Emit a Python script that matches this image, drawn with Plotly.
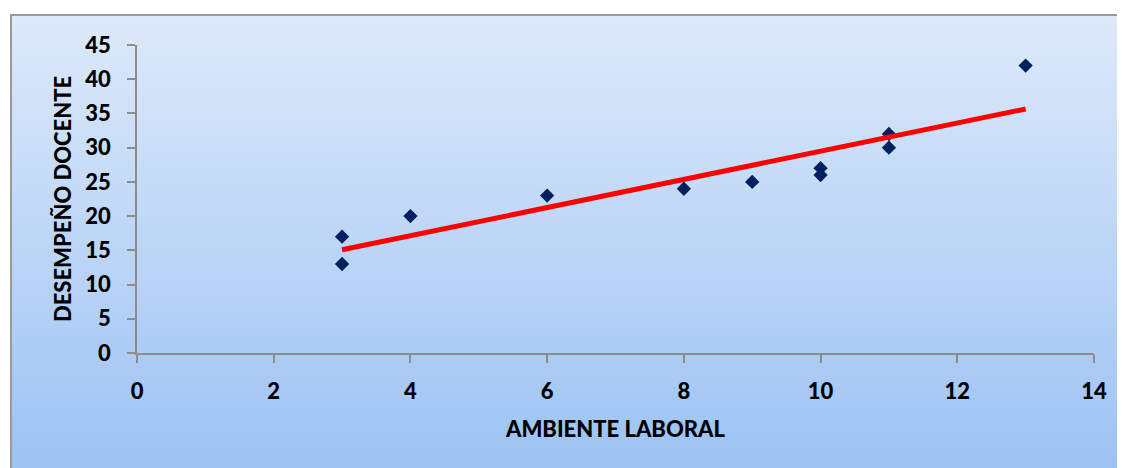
import numpy as np
import plotly.graph_objects as go

# Data
ambiente_laboral = [3, 3, 4, 6, 8, 9, 10, 10, 11, 11, 13]
desempeno_docente = [17, 13, 20, 23, 24, 25, 27, 26, 32, 30, 42]
x_ticks = [0, 2, 4, 6, 8, 10, 12, 14]
y_ticks = [0, 5, 10, 15, 20, 25, 30, 35, 40, 45]

OFF = 8  # page body margin
W, H = 1125, 468
# target plot box in page pixels: left 137, right 1094, top 45, bottom 353
L = 137 - OFF
T = 45 - OFF
R = W - (1094 - OFF)
B = H - (353 - OFF)
pw, ph = W - L - R, H - T - B

def px_to_paper_x(p):
    return (p - OFF - L) / pw

def px_to_paper_y(p):
    return (H - B - (p - OFF)) / ph

# Linear trend line fitted from data
slope, intercept = np.polyfit(ambiente_laboral, desempeno_docente, 1)
tx = [min(ambiente_laboral), max(ambiente_laboral)]
ty = [slope * v + intercept for v in tx]

fig = go.Figure()
fig.add_trace(go.Scatter(
    x=ambiente_laboral, y=desempeno_docente, mode="markers",
    marker=dict(symbol="diamond", size=11, color="#002060"),
    showlegend=False, hoverinfo="x+y"))
fig.add_trace(go.Scatter(
    x=tx, y=ty, mode="lines",
    line=dict(color="#ff0000", width=5),
    showlegend=False, hoverinfo="skip"))

# Gradient background (chart area frame)
shapes = []
top_px, bot_px = 15, 480
left_px, right_px = 11, 1140
c_top = np.array([222, 234, 250])
c_bot = np.array([155, 194, 243])
n = 80
for i in range(n):
    y0p = top_px + (bot_px - top_px) * i / n
    y1p = top_px + (bot_px - top_px) * (i + 1) / n + 0.8
    t = (i + 0.5) / n
    c = (c_top * (1 - t) + c_bot * t).astype(int)
    shapes.append(dict(type="rect", xref="paper", yref="paper",
                       x0=px_to_paper_x(left_px), x1=px_to_paper_x(right_px),
                       y0=px_to_paper_y(y1p), y1=px_to_paper_y(y0p),
                       fillcolor=f"rgb({c[0]},{c[1]},{c[2]})",
                       line=dict(width=0), layer="below"))
shapes.append(dict(type="rect", xref="paper", yref="paper",
                   x0=px_to_paper_x(left_px), x1=px_to_paper_x(right_px + 20),
                   y0=px_to_paper_y(bot_px + 20), y1=px_to_paper_y(top_px),
                   fillcolor="rgba(0,0,0,0)",
                   line=dict(width=2, color="#9a9a9a"), layer="below"))

font_family = "Lato, 'Open Sans', Arial, sans-serif"

fig.update_layout(
    width=W, height=H,
    margin=dict(l=L, r=R, t=T, b=B),
    paper_bgcolor="white",
    plot_bgcolor="rgba(0,0,0,0)",
    shapes=shapes,
    font=dict(family=font_family, color="black"),
    xaxis=dict(
        range=[0, 14], tickvals=x_ticks, ticktext=[str(v) for v in x_ticks],
        showgrid=False, zeroline=False, showline=True, linecolor="#8c8c8c", linewidth=1.5,
        ticks="outside", ticklen=8, tickcolor="#8c8c8c", tickwidth=1.5,
        tickfont=dict(size=22, family=font_family, weight=900),
        ticklabelstandoff=10,
        title=dict(text="AMBIENTE LABORAL", font=dict(size=22, family=font_family, weight=900), standoff=18),
    ),
    yaxis=dict(
        range=[0, 45], tickvals=y_ticks, ticktext=[str(v) for v in y_ticks],
        showgrid=False, zeroline=False, showline=True, linecolor="#8c8c8c", linewidth=1.5,
        ticks="outside", ticklen=8, tickcolor="#8c8c8c", tickwidth=1.5,
        tickfont=dict(size=22, family=font_family, weight=900),
        ticklabelstandoff=12,
        title=dict(text="DESEMPEÑO DOCENTE", font=dict(size=22, family=font_family, weight=900), standoff=8),
    ),
)

fig.write_html("out.html")
